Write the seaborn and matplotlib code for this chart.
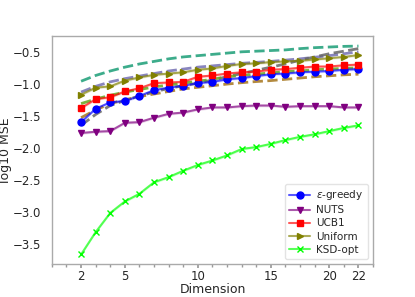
import numpy as np
import pandas as pd
import matplotlib
matplotlib.use("Agg")
import matplotlib.pyplot as plt
from matplotlib.ticker import MultipleLocator
import seaborn as sns

# x positions of the runs and the tick labels shown under them
dimension = list(range(2, 22))
xtick_pos = [2, 5, 10, 15, 19, 21]
xtick_labels = ["2", "5", "10", "15", "20", "22"]

# log10 MSE
eps_greedy = [-1.59, -1.38, -1.28, -1.26, -1.18, -1.09, -1.05, -1.02, -0.98, -0.96,
              -0.92, -0.90, -0.87, -0.84, -0.83, -0.81, -0.80, -0.79, -0.77, -0.76]
nuts = [-1.76, -1.74, -1.73, -1.60, -1.59, -1.52, -1.46, -1.44, -1.39, -1.36,
        -1.36, -1.34, -1.33, -1.33, -1.35, -1.34, -1.34, -1.34, -1.36, -1.36]
ucb1 = [-1.37, -1.23, -1.20, -1.11, -1.06, -0.98, -0.97, -0.96, -0.88, -0.86,
        -0.83, -0.81, -0.80, -0.77, -0.76, -0.74, -0.72, -0.72, -0.70, -0.69]
uniform = [-1.16, -1.05, -1.03, -0.94, -0.89, -0.85, -0.83, -0.81, -0.77, -0.75,
           -0.71, -0.68, -0.67, -0.65, -0.64, -0.63, -0.61, -0.59, -0.57, -0.54]
ksd_opt = [-3.66, -3.31, -3.01, -2.83, -2.71, -2.53, -2.45, -2.35, -2.26, -2.19,
           -2.11, -2.01, -1.98, -1.93, -1.87, -1.82, -1.78, -1.73, -1.68, -1.64]

# unlabeled dashed reference curves
dash_teal = [-0.95, -0.86, -0.79, -0.73, -0.68, -0.64, -0.60, -0.57, -0.55, -0.53,
             -0.51, -0.49, -0.48, -0.47, -0.46, -0.44, -0.425, -0.415, -0.405, -0.40]
dash_lav = [-1.12, -1.03, -0.96, -0.91, -0.87, -0.83, -0.79, -0.76, -0.73, -0.71,
            -0.69, -0.67, -0.655, -0.64, -0.62, -0.60, -0.575, -0.55, -0.52, -0.49]
dash_gray = [-1.64, -1.47, -1.33, -1.25, -1.18, -1.12, -1.06, -1.02, -0.98, -0.93,
             -0.88, -0.83, -0.78, -0.73, -0.68, -0.62, -0.57, -0.52, -0.48, -0.44]
dash_green = [-1.30, -1.23, -1.17, -1.12, -1.08, -1.04, -1.01, -0.98, -0.95, -0.92,
              -0.88, -0.86, -0.84, -0.82, -0.80, -0.79, -0.77, -0.76, -0.75, -0.74]
dash_brown = [-1.52, -1.40, -1.30, -1.24, -1.19, -1.15, -1.11, -1.07, -1.045, -1.02,
              -0.995, -0.973, -0.955, -0.94, -0.92, -0.90, -0.88, -0.865, -0.85, -0.84]
se = 0.02

sns.set_theme(style="white")
plt.rcParams["font.family"] = ["DejaVu Sans"]

fig = plt.figure(figsize=(4.15, 2.97), dpi=100)
ax = fig.add_axes([0.125, 0.111, 0.774, 0.769])

dashed = [(dash_teal, "#1b9e77"), (dash_lav, "#7570b3"), (dash_gray, "#666666"),
          (dash_green, "#66a61e"), (dash_brown, "#a6761d")]
for vals, c in dashed:
    sns.lineplot(x=dimension, y=vals, ax=ax, color=c, linestyle="--", linewidth=2,
                 alpha=0.85, legend=False)

solid = [(eps_greedy, "blue", "o", 5, r"$\epsilon$-greedy"),
         (nuts, "purple", "v", 5, "NUTS"),
         (ucb1, "red", "s", 5, "UCB1"),
         (uniform, "olive", ">", 5, "Uniform"),
         (ksd_opt, "lime", "x", 4.5, "KSD-opt")]
for vals, c, m, ms, lab in solid:
    rgba = matplotlib.colors.to_rgba(c, 0.65)
    v = np.array(vals)
    ax.fill_between(dimension, v - se, v + se, color=c, alpha=0.15, linewidth=0)
    sns.lineplot(x=dimension, y=vals, ax=ax, color=rgba, marker=m, markersize=ms,
                 markerfacecolor=c, markeredgecolor=c, markeredgewidth=1,
                 linewidth=1.5, label=lab)

ax.set_xlim(0, 22)
ax.set_ylim(-3.81, -0.237)
ax.set_xticks(xtick_pos)
ax.set_xticklabels(xtick_labels)
ax.xaxis.set_minor_locator(MultipleLocator(1))
ax.set_yticks([-3.5, -3.0, -2.5, -2.0, -1.5, -1.0, -0.5])
ax.tick_params(axis="x", which="major", bottom=True, length=3, color="#999999",
               labelsize=8.5, pad=1.5)
ax.tick_params(axis="x", which="minor", bottom=True, length=2, color="#999999")
ax.tick_params(axis="y", left=False, labelsize=8.5, pad=1.5)
for s in ax.spines.values():
    s.set_color("#aaaaaa")
    s.set_linewidth(1)

ax.set_xlabel("Dimension", fontsize=9, labelpad=0)
ax.set_ylabel("log10 MSE", fontsize=9, labelpad=1)

leg = ax.legend(loc="lower right", fontsize=7.5, frameon=True, borderpad=0.4,
                labelspacing=0.3, handlelength=2, handletextpad=0.6,
                borderaxespad=0.5)
leg.get_frame().set_edgecolor("#dddddd")

fig.savefig("out.png", dpi=100)
